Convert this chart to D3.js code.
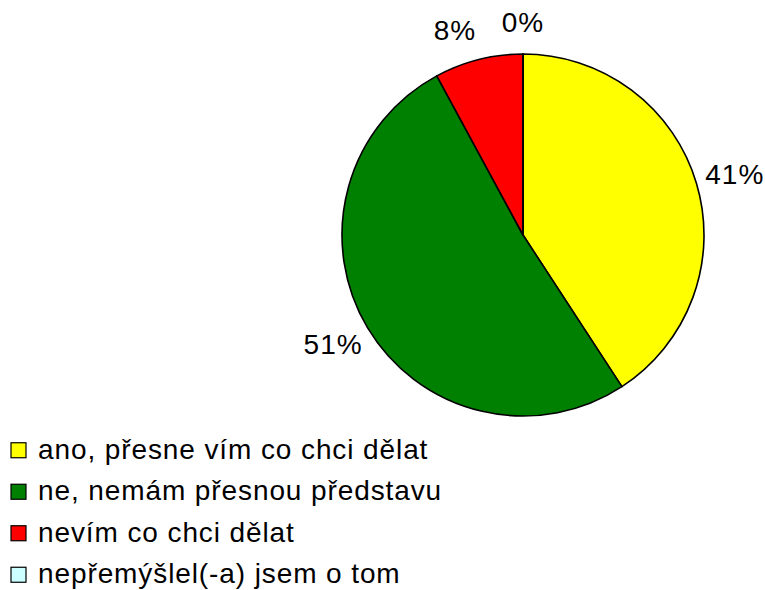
<!DOCTYPE html>
<html>
<head>
<meta charset="utf-8">
<script src="https://cdn.jsdelivr.net/npm/d3@7"></script>
<style>
  body { margin: 0; background: #fff; }
  svg text { font-family: "Liberation Sans", Arial, sans-serif; fill: #000; }
</style>
</head>
<body>
<div id="chart"></div>
<script>
// Data
const categories = [
  'ano, přesne vím co chci dělat',
  'ne, nemám přesnou představu',
  'nevím co chci dělat',
  'nepřemýšlel(-a) jsem o tom'
]
const values = [40.8, 51.3, 7.9, 0]
const pct_labels = ['41%', '51%', '8%', '0%']
const colors = ['#FFFF00', '#008000', '#FF0000', '#CCFFFF']

// Layout
const W = 765
const H = 590
const cx = 523
const cy = 235
const R = 181
const label_rx = 221
const label_ry = 213

let svg = d3.select('#chart')
  .append('svg')
  .attr('width', W)
  .attr('height', H)

let pie = d3.pie().sort(null).value(d => d)
let arcs = pie(values)

let arc = d3.arc().innerRadius(0).outerRadius(R)

let pie_g = svg.append('g')
  .attr('transform', `translate(${cx},${cy})`)

pie_g.selectAll('path')
  .data(arcs)
  .enter()
  .append('path')
    .attr('d', arc)
    .attr('fill', (d, i) => colors[i])
    .attr('stroke', '#000')
    .attr('stroke-width', 1.6)
    .attr('stroke-linejoin', 'round')

// Label positions, nudged apart if neighbours collide
let label_pos = arcs.map(d => {
  let a = (d.startAngle + d.endAngle) / 2
  return [Math.sin(a) * label_rx, -Math.cos(a) * label_ry]
})
for (let i = label_pos.length - 2; i >= 0; i--) {
  let next = label_pos[i + 1]
  let cur = label_pos[i]
  if (Math.abs(cur[1] - next[1]) < 30 && Math.abs(cur[0] - next[0]) < 68) {
    cur[0] = next[0] - 68
    cur[1] = next[1] + 8
  }
}

pie_g.selectAll('text.pct')
  .data(arcs)
  .enter()
  .append('text')
    .attr('class', 'pct')
    .attr('x', (d, i) => label_pos[i][0])
    .attr('y', (d, i) => label_pos[i][1])
    .attr('text-anchor', 'middle')
    .attr('dy', '0.36em')
    .style('font-size', '28px')
    .style('letter-spacing', '1px')
    .text((d, i) => pct_labels[i])

// Legend
let legend_y = d3.scaleBand()
  .domain(categories)
  .range([429, 595])

let legend = svg.append('g')
  .selectAll('g')
  .data(categories)
  .enter()
  .append('g')
    .attr('transform', d => `translate(11,${legend_y(d) + legend_y.bandwidth() / 2})`)

legend.append('rect')
  .attr('x', 0)
  .attr('y', -7)
  .attr('width', 15)
  .attr('height', 15)
  .attr('fill', (d, i) => colors[i])
  .attr('stroke', '#000')
  .attr('stroke-width', 1.2)

legend.append('text')
  .attr('x', 27)
  .attr('y', 0)
  .attr('dy', '0.32em')
  .style('font-size', '28px')
  .style('letter-spacing', '0.9px')
  .text(d => d)
</script>
</body>
</html>
